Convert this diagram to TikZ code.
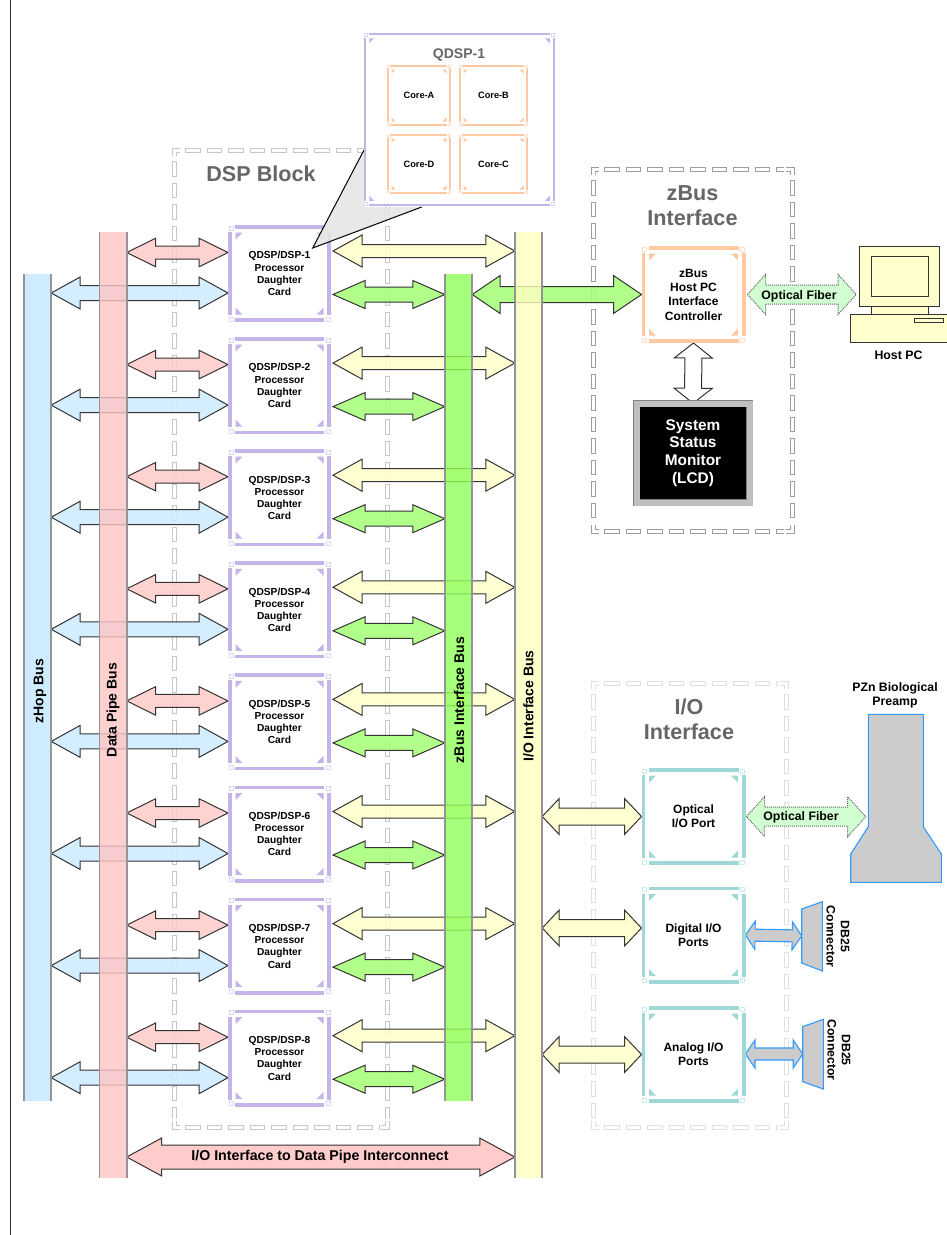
\documentclass[tikz,border=0pt]{standalone}
\usepackage{fontspec}
\setmainfont{Liberation Sans}
\usetikzlibrary{calc, backgrounds}
\definecolor{pinkFill}{HTML}{FFC4C4}
\definecolor{pinkArr}{HTML}{FFCCCC}
\definecolor{blueFill}{HTML}{C3E7FF}
\definecolor{blueArr}{HTML}{CFECFF}
\definecolor{greenFill}{HTML}{90FF59}
\definecolor{greenArr}{HTML}{A6FF7A}
\definecolor{yellowFill}{HTML}{FFFFBF}
\definecolor{yellowArr}{HTML}{FFFFCC}
\definecolor{fiberFill}{HTML}{CCFFCC}
\definecolor{cardLine}{HTML}{C4B4E8}
\definecolor{coreLine}{HTML}{FFC8A0}
\definecolor{portLine}{HTML}{A0D8D8}
\definecolor{lineDark}{HTML}{333333}
\definecolor{titleGray}{HTML}{666666}
\definecolor{plugGray}{HTML}{CCCCCC}
\definecolor{plugLine}{HTML}{3399FF}
\tikzset{
  % block arrow: shaft half width, head half width, head length
  fatarr/.style n args = {3}{
    draw=lineDark, line width=1pt, miter limit=6,
    to path={
      (\tikztostart)
      -- ($(\tikztostart)!#3!(\tikztotarget)!#2!90:(\tikztotarget)$)
      -- ($(\tikztostart)!#3!(\tikztotarget)!#1!90:(\tikztotarget)$)
      -- ($(\tikztotarget)!#3!(\tikztostart)!#1!-90:(\tikztostart)$)
      -- ($(\tikztotarget)!#3!(\tikztostart)!#2!-90:(\tikztostart)$)
      -- (\tikztotarget)
      -- ($(\tikztotarget)!#3!(\tikztostart)!#2!90:(\tikztostart)$)
      -- ($(\tikztotarget)!#3!(\tikztostart)!#1!90:(\tikztostart)$)
      -- ($(\tikztostart)!#3!(\tikztotarget)!#1!-90:(\tikztotarget)$)
      -- ($(\tikztostart)!#3!(\tikztotarget)!#2!-90:(\tikztotarget)$)
      -- cycle
    },
  },
  pinkarr/.style   = {fatarr={6.5pt}{14.3pt}{29pt}, fill=pinkArr, fill opacity=.88},
  bluearr/.style   = {fatarr={7.5pt}{16pt}{29pt}, fill=blueArr, fill opacity=.88},
  yellowarr/.style = {fatarr={6.5pt}{16pt}{29pt}, fill=yellowArr, fill opacity=.88},
  greenarr/.style  = {fatarr={7.5pt}{14pt}{32pt}, fill=greenArr, fill opacity=.88},
  bigarr/.style    = {fatarr={8pt}{19pt}{28pt}, fill=greenArr, fill opacity=.88},
  portarr/.style   = {fatarr={8.5pt}{18pt}{17pt}, fill=yellowArr, fill opacity=.88},
  linkarr/.style   = {fatarr={12pt}{19pt}{35pt}, fill=pinkArr},
  whitearr/.style  = {fatarr={8.5pt}{19pt}{15pt}, fill=white},
  fiberarr/.style  = {fatarr={9.5pt}{20pt}{18pt}, fill=fiberFill, fill opacity=.88,
    draw=black!60, dash pattern=on 1pt off 1pt},
  plugarr/.style   = {fatarr={6pt}{14pt}{9.5pt}, fill=plugGray, draw=plugLine, line width=1.1pt},
  card/.style = {
    rectangle, draw=cardLine, line width=3.6pt, fill=white, minimum width=99.4pt,
    minimum height=93.4pt, align=center, inner sep=0pt,
    font=\bfseries\fontsize{10.2}{12.2}\selectfont,
  },
  qbox/.style = {rectangle, draw=cardLine, line width=2pt, fill=white,
    minimum width=189pt, minimum height=171pt, inner sep=0pt},
  core/.style = {
    rectangle, draw=coreLine, line width=2pt, fill=white, inner sep=0pt,
    font=\bfseries\fontsize{9.2}{11}\selectfont,
  },
  ctrl/.style = {
    card, draw=coreLine, minimum width=100.4pt,
    font=\bfseries\fontsize{12}{14.3}\selectfont,
  },
  port/.style = {ctrl, draw=portLine},
  lcd/.style = {
    rectangle, draw=black!50, double=black!25, double distance=6pt, fill=black,
    text=white, minimum width=113pt, minimum height=99pt, align=center,
    inner sep=0pt, font=\bfseries\fontsize{15.4}{17.8}\selectfont,
  },
  bar/.style = {rectangle, minimum width=27pt, inner sep=0pt, fill opacity=.8, text opacity=1},
  barside/.style = {draw=black!42, line width=1.6pt},
  buslbl/.style = {rotate=90, font=\bfseries\fontsize{14}{16}\selectfont},
  blocktitle/.style = {text=titleGray, align=center, inner sep=0pt,
    font=\bfseries\fontsize{21.6}{24.7}\selectfont},
  lbl/.style = {align=center, inner sep=0pt, font=\bfseries\fontsize{12.3}{14.3}\selectfont},
  pc/.style = {draw=lineDark, line width=1pt, fill=yellowArr},
  plug/.style = {draw=plugLine, line width=1.1pt, fill=plugGray},
  framebase/.style = {rectangle, inner sep=0pt, outer sep=0pt},
  dashline/.style = {draw=#1, line width=5pt, dash pattern=on 15.5pt off 6pt,
    postaction={draw=white, line width=3pt, dash pattern=on 13.5pt off 8pt, dash phase=20.5pt}},
  cornerline/.style = {draw=#1, line width=5pt,
    postaction={draw=white, line width=3pt}},
}
\newcommand{\cardmarks}[3]{
  \foreach \crn/\sx/\sy in {north west/1/1, north east/-1/1, south west/1/-1, south east/-1/-1}{
    \fill[white] (#1.\crn) rectangle +({\sx*7*#3},{\sy*7*#3});
    \draw[#2!55, line width=.8pt] ($(#1.\crn)+({\sx*#3},{\sy*#3})$) rectangle +({\sx*4*#3},{\sy*4*#3});
    \fill[#2] ($(#1.\crn)+({\sx*7.5*#3},{\sy*7.5*#3})$) -- +({\sx*7*#3},0) -- +(0,{\sy*7*#3}) -- cycle;
  }
}
\newcommand{\dashsides}[2]{
  \draw[dashline=#2] ($(#1.north west)+(11,0)$) -- ($(#1.north east)+(-8,0)$);
  \draw[dashline=#2] ($(#1.south west)+(11,0)$) -- ($(#1.south east)+(-8,0)$);
  \draw[dashline=#2] ($(#1.north west)+(0,11)$) -- ($(#1.south west)+(0,-8)$);
  \draw[dashline=#2] ($(#1.north east)+(0,11)$) -- ($(#1.south east)+(0,-8)$);
  \draw[cornerline=#2] ($(#1.north west)+(0,6)$) -- (#1.north west) -- +(6,0);
  \draw[cornerline=#2] ($(#1.north east)+(0,6)$) -- (#1.north east) -- +(-6,0);
  \draw[cornerline=#2] ($(#1.south west)+(0,-6)$) -- (#1.south west) -- +(6,0);
  \draw[cornerline=#2] ($(#1.south east)+(0,-6)$) -- (#1.south east) -- +(-6,0);
}

\begin{document}
\begin{tikzpicture}[x=1pt, y=-1pt]
\useasboundingbox (0,0) rectangle (947,1235);

\draw[lineDark, line width=1.2pt] (10.5,0) -- (10.5,1235);

% frames
\node[framebase, minimum width=213pt, minimum height=977pt] (dsp) at (280.5,638.5) {};
\node[framebase, minimum width=199pt, minimum height=362pt] (zif) at (692.5,350) {};
\node[framebase, minimum width=193pt, minimum height=444pt] (iof) at (689.5,905) {};
\node[blocktitle] (dsptitle) at (261,174) {DSP Block};
\node[blocktitle] (ziftitle) at (692.5,206) {zBus\\Interface};
\node[blocktitle] (ioftitle) at (689,719) {I/O\\Interface};

% buses
\node[bar, fill=blueFill, minimum height=827pt] (zhop) at (37.5,687.5) {};
\node[bar, fill=pinkFill, minimum height=946pt] (dpipe) at (113,705) {};
\node[bar, fill=greenFill, minimum height=827pt] (zbus) at (458.5,687.5) {};
\node[bar, fill=yellowFill, minimum height=946pt] (iobus) at (528.5,705) {};
\foreach \b in {zhop,dpipe,zbus,iobus}{
  \draw[barside] (\b.north west) -- (\b.south west);
  \draw[barside] (\b.north east) -- (\b.south east);
}
\node[buslbl] (zhoplbl) at (40,691) {zHop Bus};
\node[buslbl] (dpipelbl) at (113,710) {Data Pipe Bus};
\node[buslbl] (zbuslbl) at (459,700) {zBus Interface Bus};
\node[buslbl] (iobuslbl) at (528.5,706) {I/O Interface Bus};

% daughter cards
\foreach \i in {1,...,8}{
  \node[card] (q\i) at (279.5,{273.5+112.1*(\i-1)}) {QDSP/DSP-\i\\Processor\\Daughter\\Card};
  \cardmarks{q\i}{cardLine}{1}
}

% the zoomed chip
\fill[black!10, fill opacity=.9] (312.7,248) -- (364,150) -- (364,207) -- (421.7,207) -- cycle;
\draw[black, line width=1pt] (364,150) -- (312.7,248) -- (421.7,207);
\node[qbox] (chip) at (459.5,119.5) {};
\cardmarks{chip}{cardLine}{.7}
\node[text=titleGray, inner sep=0pt, font=\bfseries\fontsize{14}{16}\selectfont] (chiptitle) at (459,54.5) {QDSP-1};
\node[core, minimum width=62pt, minimum height=59pt] (corea) at (419,95.5) {Core-A};
\node[core, minimum width=67pt, minimum height=59pt] (coreb) at (493.5,95.5) {Core-B};
\node[core, minimum width=62pt, minimum height=58pt] (cored) at (419,164) {Core-D};
\node[core, minimum width=67pt, minimum height=58pt] (corec) at (493.5,164) {Core-C};
\foreach \c in {corea,coreb,cored,corec}{
  \cardmarks{\c}{coreLine}{.6}
}

% zbus side
\node[ctrl] (zctl) at (693.5,294.5) {zBus\\Host PC\\Interface\\Controller};
\cardmarks{zctl}{coreLine}{1}
\node[lcd] (mon) at (693,453) {System\\Status\\Monitor\\(LCD)};

% host pc
\node[pc, minimum width=80pt, minimum height=60pt, inner sep=0pt] (hostmon) at (899.7,276.3) {};
\node[pc, minimum width=57pt, minimum height=40pt, inner sep=0pt] (hostscr) at (899.5,276) {};
\draw[pc] (871,306.7) rectangle (928,314);
\node[pc, minimum width=99pt, minimum height=28pt, inner sep=0pt] (hostbase) at (899.5,328) {};
\draw[pc] (914,318.5) rectangle (943,322);
\node[lbl] (hostlbl) at (898.5,355) {Host PC};

% io side
\node[port] (iop) at (693.5,816.5) {Optical\\I/O Port};
\node[port] (dig) at (693.5,935) {Digital I/O\\Ports};
\node[port] (ana) at (693.5,1054.5) {Analog I/O\\Ports};
\foreach \p in {iop,dig,ana}{
  \cardmarks{\p}{portLine}{1}
}
\draw[plug] (868.3,714.3) -- (923.3,714.3) -- (923.3,826.7) -- (941.3,854) -- (941.3,882.3)
  -- (850.7,882.3) -- (850.7,854) -- (868.3,826.7) -- cycle;
\node[lbl] (prelbl) at (895,695) {PZn Biological\\Preamp};
\draw[plug] (801.7,909) -- (822.3,901.7) -- (822.3,971) -- (801.7,963) -- cycle;
\draw[plug] (802.7,1026.7) -- (823.3,1019.3) -- (823.3,1089) -- (802.7,1081.7) -- cycle;
\node[lbl, rotate=-90] (db1lbl) at (838,936.7) {DB25\\Connector};
\node[lbl, rotate=-90] (db2lbl) at (839,1050) {DB25\\Connector};
\coordinate (db1in) at (801.7,936);
\coordinate (db2in) at (802.7,1054);
\coordinate (preamp) at (865.7,816.7);
\coordinate (digin) at ([yshift=7pt]dig.west);

\node[inner sep=0pt, font=\bfseries\fontsize{14.2}{16}\selectfont] (linklbl) at (320,1157) {I/O Interface to Data Pipe Interconnect};
\node[lbl] (fib1lbl) at (799,296) {Optical Fiber};
\node[lbl] (fib2lbl) at (801,817) {Optical Fiber};

\begin{scope}[on background layer]
  \dashsides{dsp}{black!22}
  \dashsides{zif}{black!38}
  \dashsides{iof}{black!12}
  \foreach \i in {1,...,8}{
    \coordinate (pk) at ($(q\i.north west)+(0,27.5)$);
    \coordinate (bl) at ($(q\i.north west)+(0,68)$);
    \coordinate (yw) at ($(q\i.north east)+(2,26)$);
    \coordinate (gn) at ($(q\i.north east)+(2,69.5)$);
    \draw[pinkarr] (dpipe.east |- pk) to (pk);
    \draw[bluearr] (zhop.east |- bl) to (bl);
    \draw[yellowarr] (yw) to (iobus.west |- yw);
    \draw[greenarr] (gn) to (zbus.west |- gn);
  }
  \draw[bigarr] (zbus.east |- zctl.west) to (zctl.west);
  \draw[portarr] (iobus.east |- iop.west) to (iop.west);
  \draw[portarr] (iobus.east |- digin) to (digin);
  \draw[portarr] (iobus.east |- ana.west) to (ana.west);
  \draw[whitearr] (zctl.south) to (mon.north);
  \draw[fiberarr] ([xshift=2pt]zctl.east) to ([xshift=-3pt]hostmon.west |- zctl.east);
  \draw[fiberarr] ([xshift=1pt]iop.east) to (preamp);
  \draw[plugarr] (dig.east) to (db1in);
  \draw[plugarr] ([yshift=.5pt]ana.east) to (db2in);
  \draw[linkarr] (dpipe.east |- linklbl) to (iobus.west |- linklbl);
\end{scope}

\end{tikzpicture}
\end{document}
